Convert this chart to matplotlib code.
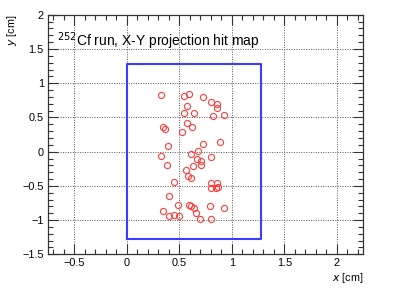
import numpy as np
import matplotlib
matplotlib.use("Agg")
import matplotlib.pyplot as plt
from matplotlib.ticker import MultipleLocator, FuncFormatter

# hit positions (cm)
HIT_X = [0.328, 0.548, 0.589, 0.725, 0.801, 0.863, 0.862, 0.570, 0.545, 0.637,
         0.825, 0.922, 0.347, 0.366, 0.572, 0.618, 0.523, 0.388, 0.725, 0.884,
         0.326, 0.608, 0.682, 0.665, 0.706, 0.706, 0.801, 0.386, 0.629, 0.566,
         0.587, 0.610, 0.454, 0.805, 0.863, 0.806, 0.846, 0.867, 0.398, 0.588,
         0.612, 0.637, 0.488, 0.789, 0.922, 0.349, 0.401, 0.450, 0.499, 0.658,
         0.699, 0.805]
HIT_Y = [0.822, 0.816, 0.841, 0.802, 0.724, 0.703, 0.637, 0.662, 0.560, 0.560,
         0.523, 0.542, 0.363, 0.324, 0.423, 0.360, 0.281, 0.083, 0.117, 0.141,
         -0.058, -0.038, 0.003, -0.103, -0.134, -0.190, -0.085, -0.195, -0.211, -0.264,
         -0.357, -0.379, -0.449, -0.464, -0.464, -0.536, -0.534, -0.515, -0.643, -0.780,
         -0.794, -0.824, -0.776, -0.789, -0.821, -0.862, -0.940, -0.926, -0.940, -0.901,
         -0.981, -0.981]

# detector outline (cm)
BOX_X = [0.0, 1.28, 1.28, 0.0, 0.0]
BOX_Y = [-1.28, -1.28, 1.28, 1.28, -1.28]

X_RANGE = (-0.75, 2.25)
Y_RANGE = (-1.5, 2.0)

plt.rcParams["font.family"] = ["Liberation Sans", "DejaVu Sans"]

figure = plt.figure(figsize=(4.03, 2.90), dpi=100)
axes = figure.add_axes([0.119, 0.123, 0.782, 0.826])

axes.plot(BOX_X, BOX_Y, color="#3c3cff", linewidth=1.5, zorder=3)
axes.plot(HIT_X, HIT_Y, linestyle="none", marker="o", markersize=4.4,
          markerfacecolor="none", markeredgecolor="#ff3c3c", markeredgewidth=0.8,
          zorder=4)

axes.set_xlim(*X_RANGE)
axes.set_ylim(*Y_RANGE)
axes.xaxis.set_major_locator(MultipleLocator(0.5))
axes.xaxis.set_minor_locator(MultipleLocator(0.1))
axes.yaxis.set_major_locator(MultipleLocator(0.5))
axes.yaxis.set_minor_locator(MultipleLocator(0.1))


def root_format(value, _):
    text = f"{value:g}"
    return text.replace("-", "\u2212")


axes.xaxis.set_major_formatter(FuncFormatter(root_format))
axes.yaxis.set_major_formatter(FuncFormatter(root_format))
axes.tick_params(which="both", direction="in", top=True, right=True,
                 color="#333333", labelsize=7.8, pad=3)
axes.tick_params(which="major", length=7, width=0.8)
axes.tick_params(which="minor", length=3.5, width=0.8)
axes.grid(True, which="major", linestyle=(0, (1, 1.5)), color="#555555", linewidth=0.7)
for spine in axes.spines.values():
    spine.set_linewidth(0.9)
    spine.set_color("#333333")

axes.text(0.03, 0.935, "$^{252}$Cf run, X-Y projection hit map",
          transform=axes.transAxes, fontsize=10, ha="left", va="top")

axes.set_xlabel("$\\mathit{x}$ [cm]", fontsize=7.8, loc="right", labelpad=2)
axes.set_ylabel("$\\mathit{y}$ [cm]", fontsize=7.8, loc="top", labelpad=2)

figure.savefig("out.png", dpi=100)
plt.close(figure)
